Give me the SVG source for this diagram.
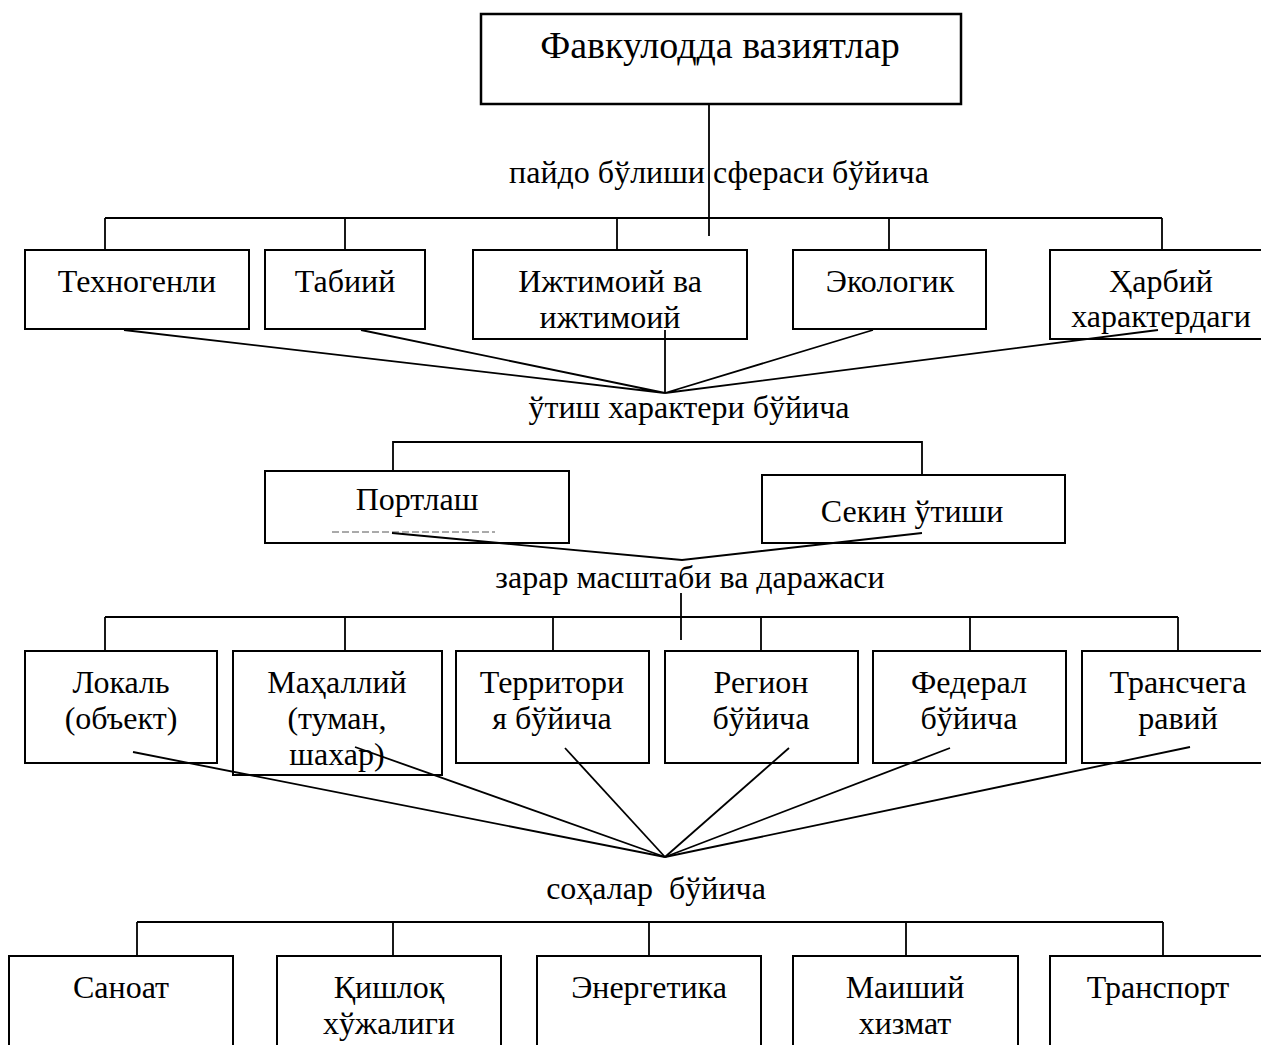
<svg xmlns="http://www.w3.org/2000/svg" width="1261" height="1045" viewBox="0 0 1261 1045">
<style>
  .box { fill: #fff; stroke: #000; stroke-width: 2; }
  .ln { stroke: #000; stroke-width: 1.8; fill: none; }
  text { font-family: "Liberation Serif", "Times New Roman", serif; font-size: 32px; fill: #000; text-anchor: middle; }
  .title { font-size: 38px; }
</style>
<rect width="1261" height="1045" fill="#fff"/>

<g id="connectors">
  <line class="ln" x1="709" y1="91" x2="709" y2="236"/>
  <line class="ln" x1="105" y1="218" x2="1162" y2="218"/>
  <line class="ln" x1="105" y1="218" x2="105" y2="250"/>
  <line class="ln" x1="345" y1="218" x2="345" y2="250"/>
  <line class="ln" x1="617" y1="218" x2="617" y2="250"/>
  <line class="ln" x1="889" y1="218" x2="889" y2="250"/>
  <line class="ln" x1="1162" y1="218" x2="1162" y2="250"/>
  <polyline class="ln" points="393,474 393,442 922,442 922,475"/>
  <line class="ln" x1="681" y1="593" x2="681" y2="640"/>
  <line class="ln" x1="105" y1="617" x2="1178" y2="617"/>
  <line class="ln" x1="105" y1="617" x2="105" y2="651"/>
  <line class="ln" x1="345" y1="617" x2="345" y2="651"/>
  <line class="ln" x1="553" y1="617" x2="553" y2="651"/>
  <line class="ln" x1="761" y1="617" x2="761" y2="651"/>
  <line class="ln" x1="970" y1="617" x2="970" y2="651"/>
  <line class="ln" x1="1178" y1="617" x2="1178" y2="651"/>
  <line class="ln" x1="137" y1="922" x2="1163" y2="922"/>
  <line class="ln" x1="137" y1="922" x2="137" y2="956"/>
  <line class="ln" x1="393" y1="922" x2="393" y2="956"/>
  <line class="ln" x1="649" y1="922" x2="649" y2="956"/>
  <line class="ln" x1="906" y1="922" x2="906" y2="956"/>
  <line class="ln" x1="1163" y1="922" x2="1163" y2="956"/>
</g>

<g id="n-root">
  <rect class="box" x="481" y="14" width="480" height="90" style="stroke-width:2.5"/>
  <text class="title" x="720" y="58">Фавкулодда вазиятлар</text>
</g>
<g id="n-lbl1"><text x="719" y="183">пайдо бўлиши сфераси бўйича</text></g>

<g id="n-tech"><rect class="box" x="25" y="250" width="224" height="79"/><text x="137" y="292">Техногенли</text></g>
<g id="n-tabiiy"><rect class="box" x="265" y="250" width="160" height="79"/><text x="345" y="292">Табиий</text></g>
<g id="n-ijt"><rect class="box" x="473" y="250" width="274" height="89"/><text x="610" y="292">Ижтимоий ва</text><text x="610" y="328">ижтимоий</text></g>
<g id="n-eko"><rect class="box" x="793" y="250" width="193" height="79"/><text x="890" y="292">Экологик</text></g>
<g id="n-harb"><rect class="box" x="1050" y="250" width="222" height="89"/><text x="1161" y="292">Ҳарбий</text><text x="1161" y="327">характердаги</text></g>

<g id="n-lbl2"><text x="689" y="418">ўтиш характери бўйича</text></g>

<g id="n-port"><rect class="box" x="265" y="471" width="304" height="72"/><text x="417" y="510">Портлаш</text>
  <line x1="332" y1="532" x2="495" y2="532" stroke="#555" stroke-width="1" stroke-dasharray="7 3"/></g>
<g id="n-sekin"><rect class="box" x="762" y="475" width="303" height="68"/><text x="912" y="522">Секин ўтиши</text></g>

<g id="n-lbl3"><text x="690" y="588">зарар масштаби ва даражаси</text></g>

<g id="n-lokal"><rect class="box" x="25" y="651" width="192" height="112"/><text x="121" y="693">Локаль</text><text x="121" y="729">(объект)</text></g>
<g id="n-mahal"><rect class="box" x="233" y="651" width="209" height="124"/><text x="337" y="693">Маҳаллий</text><text x="337" y="729">(туман,</text><text x="337" y="765">шахар)</text></g>
<g id="n-terr"><rect class="box" x="456" y="651" width="193" height="112"/><text x="552" y="693">Территори</text><text x="552" y="729">я бўйича</text></g>
<g id="n-region"><rect class="box" x="665" y="651" width="193" height="112"/><text x="761" y="693">Регион</text><text x="761" y="729">бўйича</text></g>
<g id="n-feder"><rect class="box" x="873" y="651" width="193" height="112"/><text x="969" y="693">Федерал</text><text x="969" y="729">бўйича</text></g>
<g id="n-trans"><rect class="box" x="1082" y="651" width="192" height="112"/><text x="1178" y="693">Трансчега</text><text x="1178" y="729">равий</text></g>

<g id="connectors-over">
  <polyline class="ln" points="124,330 665,393 361,330"/>
  <line class="ln" x1="665" y1="330" x2="665" y2="393"/>
  <polyline class="ln" points="873,330 665,393 1158,330"/>
  <polyline class="ln" points="392,533 682,560 922,533"/>
  <line class="ln" x1="133" y1="752" x2="665" y2="857"/>
  <line class="ln" x1="355" y1="747" x2="665" y2="857"/>
  <line class="ln" x1="565" y1="748" x2="665" y2="857"/>
  <line class="ln" x1="789" y1="748" x2="665" y2="857"/>
  <line class="ln" x1="950" y1="748" x2="665" y2="857"/>
  <line class="ln" x1="1190" y1="747" x2="665" y2="857"/>
</g>

<g id="n-lbl4"><text x="656" y="899" style="white-space:pre">соҳалар  бўйича</text></g>

<g id="n-sanoat"><rect class="box" x="9" y="956" width="224" height="100"/><text x="121" y="998">Саноат</text></g>
<g id="n-qishloq"><rect class="box" x="277" y="956" width="224" height="100"/><text x="389" y="998">Қишлоқ</text><text x="389" y="1034">хўжалиги</text></g>
<g id="n-energ"><rect class="box" x="537" y="956" width="224" height="100"/><text x="649" y="998">Энергетика</text></g>
<g id="n-maishiy"><rect class="box" x="793" y="956" width="225" height="100"/><text x="905" y="998">Маиший</text><text x="905" y="1034">хизмат</text></g>
<g id="n-transport"><rect class="box" x="1050" y="956" width="224" height="100"/><text x="1158" y="998">Транспорт</text></g>
</svg>
